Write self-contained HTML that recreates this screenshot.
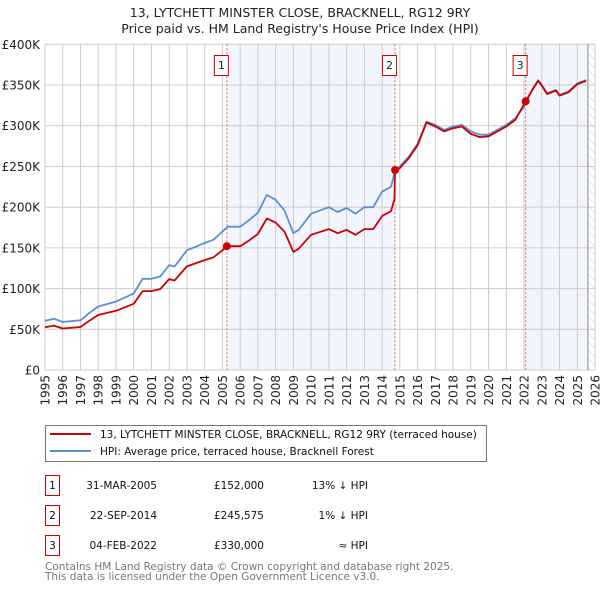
<!DOCTYPE html>
<html><head><meta charset="utf-8"><style>
body{margin:0;background:#fff;font-family:"Liberation Sans","DejaVu Sans",sans-serif;}
svg text{font-family:"DejaVu Sans","Liberation Sans",sans-serif;}
</style></head><body>
<svg id="c" width="600" height="590" viewBox="0 0 600 590" xmlns="http://www.w3.org/2000/svg">
<defs><pattern id="hatch" width="6" height="6" patternUnits="userSpaceOnUse" patternTransform="rotate(-45)"><line x1="0" y1="0" x2="0" y2="6" stroke="#ccc" stroke-width="1"/></pattern></defs>
<text x="300" y="17" text-anchor="middle" font-size="12.5" fill="#222">13, LYTCHETT MINSTER CLOSE, BRACKNELL, RG12 9RY</text>
<text x="300" y="33" text-anchor="middle" font-size="12.5" fill="#222">Price paid vs. HM Land Registry's House Price Index (HPI)</text>
<g id="plot"></g>
<g>
<rect x="45.5" y="425.5" width="441" height="36" fill="#fff" stroke="#777"/>
<line x1="50" y1="434" x2="91" y2="434" stroke="#cc0000" stroke-width="2"/>
<text x="100" y="438" font-size="10.5" fill="#111">13, LYTCHETT MINSTER CLOSE, BRACKNELL, RG12 9RY (terraced house)</text>
<line x1="50" y1="451" x2="91" y2="451" stroke="#5b8fd4" stroke-width="2"/>
<text x="100" y="455" font-size="10.5" fill="#111">HPI: Average price, terraced house, Bracknell Forest</text>
</g>
<g font-size="10.5" fill="#111">
<rect x="45.5" y="475.5" width="14" height="20" fill="#fff" stroke="#cc0000"/><text x="52.5" y="489" text-anchor="middle">1</text>
<text x="157" y="489" text-anchor="end">31-MAR-2005</text>
<text x="264" y="489" text-anchor="end">£152,000</text>
<text x="368" y="489" text-anchor="end">13% ↓ HPI</text>
<rect x="45.5" y="505.5" width="14" height="20" fill="#fff" stroke="#cc0000"/><text x="52.5" y="519" text-anchor="middle">2</text>
<text x="157" y="519" text-anchor="end">22-SEP-2014</text>
<text x="264" y="519" text-anchor="end">£245,575</text>
<text x="368" y="519" text-anchor="end">1% ↓ HPI</text>
<rect x="45.5" y="535.5" width="14" height="20" fill="#fff" stroke="#cc0000"/><text x="52.5" y="549" text-anchor="middle">3</text>
<text x="157" y="549" text-anchor="end">04-FEB-2022</text>
<text x="264" y="549" text-anchor="end">£330,000</text>
<text x="368" y="549" text-anchor="end">≈ HPI</text>
</g>
<text x="45" y="570" font-size="10.5" fill="#777">Contains HM Land Registry data © Crown copyright and database right 2025.</text>
<text x="45" y="580" font-size="10.5" fill="#777">This data is licensed under the Open Government Licence v3.0.</text>
</svg>
<script>
const yTicks=[0,50,100,150,200,250,300,350,400];
const yTickLabels=["£0","£50K","£100K","£150K","£200K","£250K","£300K","£350K","£400K"];
const xYears=[1995,1996,1997,1998,1999,2000,2001,2002,2003,2004,2005,2006,2007,2008,2009,2010,2011,2012,2013,2014,2015,2016,2017,2018,2019,2020,2021,2022,2023,2024,2025,2026];
const hpiYears=[1995,1995.5,1996,1997,1997.5,1998,1999,2000,2000.5,2001,2001.5,2002,2002.3,2003,2004,2004.5,2005,2005.3,2006,2006.5,2007,2007.5,2008,2008.5,2009,2009.3,2010,2011,2011.5,2012,2012.5,2013,2013.5,2014,2014.5,2014.7,2015,2015.5,2016,2016.5,2017,2017.5,2018,2018.5,2019,2019.5,2020,2020.5,2021,2021.5,2022,2022.5,2022.8,2023,2023.3,2023.8,2024,2024.5,2025,2025.5];
const hpiValues=[60.6,63,59,61,70,78,84,94,112,112,115,129,127,147,156,160,170,176,176,184,193,215,209,196,168,172,192,200,194,199,192,200,200,219,225,242,250,262,278,305,301,295,299,301,293,289,289,295,301,309,323,346,356,350,340,344,338,342,352,356];
const redYears=[1995,1995.5,1996,1997,1997.5,1998,1999,2000,2000.5,2001,2001.5,2002,2002.3,2003,2004,2004.5,2005,2005.25,2006,2006.5,2007,2007.5,2008,2008.5,2009,2009.3,2010,2011,2011.5,2012,2012.5,2013,2013.5,2014,2014.5,2014.7,2014.73,2015,2015.5,2016,2016.5,2017,2017.5,2018,2018.5,2019,2019.5,2020,2020.5,2021,2021.5,2022.09,2022.5,2022.8,2023,2023.3,2023.8,2024,2024.5,2025,2025.5];
const redValues=[52.4,54.5,51,52.8,60.5,67.5,72.7,81.3,96.9,96.9,99.5,111.6,109.9,127.2,135,138.4,147,152,152,159,167,186,181,170,145,149,166,173,168,172,166,173,173,189,195,210,245.6,248,260,276,304,299,293,297,299,290,286,287,293,299,307,330,345,355,349,339,343,337,341,351,355];
const sales=[{n:"1",year:2005.25,value:152},{n:"2",year:2014.73,value:245.575},{n:"3",year:2022.09,value:330}];
const X0=45,X1=595,Y0=370,Y1=44.3;
function xs(y){return X0+(y-1995)/(2026-1995)*(X1-X0);}
function ys(v){return Y0-v/400*(Y0-Y1);}
const NS="http://www.w3.org/2000/svg";
const g=document.getElementById('plot');
function mk(t,a){const e=document.createElementNS(NS,t);for(const k in a)e.setAttribute(k,a[k]);g.appendChild(e);return e;}
let e;
e=mk('rect',{x:xs(sales[0].year),y:Y1,width:xs(sales[1].year)-xs(sales[0].year),height:Y0-Y1,fill:'#f2f5fd'});


e=mk('rect',{x:xs(sales[2].year),y:Y1,width:xs(2025.6)-xs(sales[2].year),height:Y0-Y1,fill:'#f2f5fd'});


e=mk('rect',{x:xs(2025.6),y:Y1,width:X1-xs(2025.6),height:Y0-Y1,fill:'url(#hatch)'});


yTicks.forEach((t,i)=>{
 e=mk('line',{x1:X0,x2:X1,y1:ys(t),y2:ys(t),stroke:'#ccc','stroke-width':1});
 
 
 e=mk('text',{x:X0-5,y:ys(t)+4.5,'text-anchor':'end','font-size':12,fill:'#222'});
 e.textContent=yTickLabels[i];
 
 
});
xYears.forEach(yr=>{
 e=mk('line',{x1:xs(yr),x2:xs(yr),y1:Y1,y2:Y0,stroke:'#ccc','stroke-width':1});
 
 
 e=mk('text',{x:0,y:0,'text-anchor':'end','font-size':12,fill:'#222',transform:`translate(${xs(yr)+4.5},375) rotate(-90)`});
 e.textContent=String(yr);
 
 
});
e=mk('line',{x1:xs(2025.6),x2:xs(2025.6),y1:Y1,y2:Y0,stroke:'#888','stroke-width':1});


sales.forEach(s=>{
 e=mk('line',{x1:xs(s.year),x2:xs(s.year),y1:Y1,y2:Y0,stroke:'#e06070','stroke-width':1,'stroke-dasharray':'2,2'});
 
 
});
function path(xa,va,color,name){
 const d=xa.map((x,i)=>(i?'L':'M')+xs(x).toFixed(1)+','+ys(va[i]).toFixed(1)).join('');
 e=mk('path',{d:d,fill:'none',stroke:color,'stroke-width':1.8,'stroke-linejoin':'round'});
 
 
}
path(hpiYears,hpiValues,'#5b8fd4','hpi-line');
path(redYears,redValues,'#cc0000','price-paid-line');
sales.forEach(s=>{
 e=mk('circle',{cx:xs(s.year),cy:ys(s.value),r:4,fill:'#cc0000'});
 
 
 e=mk('rect',{x:xs(s.year)-12.5,y:55.5,width:14,height:20,fill:'#fff',stroke:'#cc0000'});
 
 
 e=mk('text',{x:xs(s.year)-5.5,y:69,'text-anchor':'middle','font-size':11,fill:'#222'});
 e.textContent=s.n;
 
 
});
</script>
</body></html>
